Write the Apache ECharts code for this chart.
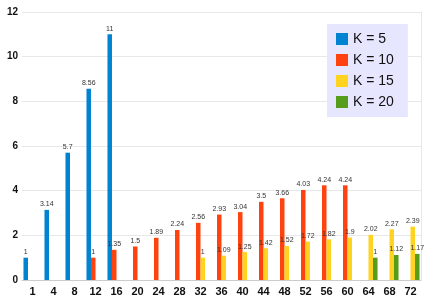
<!DOCTYPE html>
<html>
<head>
<meta charset="utf-8">
<script src="https://cdn.jsdelivr.net/npm/echarts@6/dist/echarts.min.js"></script>
<style>html,body{margin:0;padding:0;background:#fff}#c{width:436px;height:308px}</style>
</head>
<body>
<div id="c"></div>
<script>
const categories = ['1','4','8','12','16','20','24','28','32','36','40','44','48','52','56','60','64','68','72'];
const seriesNames = ['K = 5','K = 10','K = 15','K = 20'];
const k5  = [1, 3.14, 5.7, 8.56, 11, null, null, null, null, null, null, null, null, null, null, null, null, null, null];
const k10 = [null, null, null, 1, 1.35, 1.5, 1.89, 2.24, 2.56, 2.93, 3.04, 3.5, 3.66, 4.03, 4.24, 4.24, null, null, null];
const k15 = [null, null, null, null, null, null, null, null, 1, 1.09, 1.25, 1.42, 1.52, 1.72, 1.82, 1.9, 2.02, 2.27, 2.39];
const k20 = [null, null, null, null, null, null, null, null, null, null, null, null, null, null, null, null, 1, 1.12, 1.17];
const yTicks = {min: 0, max: 12, interval: 2};
const colors = ['#0084d1', '#ff420e', '#ffd320', '#579d1c'];

const chart = echarts.init(document.getElementById('c'), null, {renderer: 'canvas'});
const allData = [k5, k10, k15, k20];
chart.setOption({
  animation: false,
  color: colors,
  grid: {left: 22, right: 15, top: 12, bottom: 28},
  legend: {
    orient: 'vertical',
    left: 327, top: 24,
    backgroundColor: '#e6e6ff',
    padding: [8, 14, 8, 9],
    itemGap: 7,
    itemWidth: 12, itemHeight: 12,
    icon: 'rect',
    textStyle: {fontSize: 14, color: '#111', fontFamily: 'Liberation Sans', lineHeight: 12},
    data: seriesNames
  },
  xAxis: {
    type: 'category',
    data: categories,
    axisTick: {show: false},
    axisLine: {lineStyle: {color: '#cccccc'}},
    axisLabel: {fontSize: 11, fontWeight: 'bold', color: '#111', fontFamily: 'Liberation Sans', margin: 6}
  },
  yAxis: [{
    type: 'value',
    min: yTicks.min, max: yTicks.max, interval: yTicks.interval,
    axisLine: {show: false},
    axisTick: {show: false},
    splitLine: {lineStyle: {color: '#e8e8e8'}},
    axisLabel: {fontSize: 10, fontWeight: 'bold', color: '#111', fontFamily: 'Liberation Sans', margin: 4}
  }, {
    type: 'value', position: 'right',
    min: yTicks.min, max: yTicks.max, interval: yTicks.interval,
    axisLine: {show: true, lineStyle: {color: '#e8e8e8'}},
    axisTick: {show: false}, axisLabel: {show: false}, splitLine: {show: false}
  }],
  series: seriesNames.map((n, i) => ({
    name: n,
    type: 'bar',
    data: allData[i],
    barGap: '0%',
    barCategoryGap: '14%',
    label: {show: true, position: 'top', distance: 2, fontSize: 7, color: '#333', fontFamily: 'Liberation Sans'}
  }))
});
</script>
</body>
</html>
